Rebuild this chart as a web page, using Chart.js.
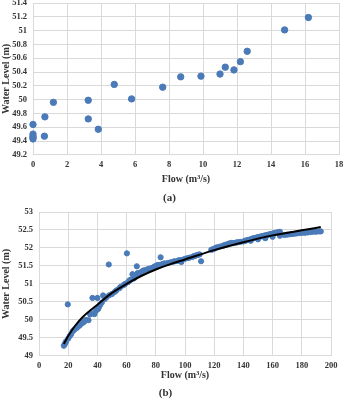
<!DOCTYPE html>
<html>
<head>
<meta charset="utf-8">
<script src="https://cdn.jsdelivr.net/npm/chart.js@4.4.0/dist/chart.umd.min.js"></script>
<style>
  body { margin: 0; background: #fff; }
  #wrapA { position: absolute; left: 0; top: 0; width: 343px; height: 205px; }
  #wrapB { position: absolute; left: 0; top: 205px; width: 343px; height: 195px; }
</style>
</head>
<body>
<div id="wrapA"><canvas id="chartA"></canvas></div>
<div id="wrapB"><canvas id="chartB"></canvas></div>
<script>
// (a) flow vs water level
const flowA = [0, 0, 0, 0, 0, 0.67, 0.7, 1.2, 3.25, 3.25, 3.84, 4.78, 5.8, 7.63, 8.69, 9.88, 11.0, 11.31, 11.82, 12.2, 12.6, 14.8, 16.2];
const levelA = [49.64, 49.5, 49.47, 49.45, 49.43, 49.47, 49.75, 49.96, 49.99, 49.72, 49.57, 50.22, 50.01, 50.18, 50.33, 50.34, 50.37, 50.47, 50.43, 50.55, 50.7, 51.01, 51.19];

// (b) flow vs water level, plus fitted curve
const flowB = [17, 17.5, 18, 18.5, 19.7, 20, 21, 22, 23, 24, 25, 26, 27, 28, 29, 30, 31, 32, 33.9, 35, 36.6, 37, 38, 39, 40, 40.5, 41, 42, 43, 43.9, 45, 46, 47.8, 48, 50, 52, 53, 55, 56, 58, 59, 60.2, 61, 62, 63, 64, 65, 66, 67, 67.5, 68, 69, 70, 71, 72, 74, 75, 77, 78, 79, 80, 81, 82, 83.3, 84, 85, 86, 88, 90, 92, 93, 95, 96, 97.5, 98, 100, 102, 103, 105, 106, 107, 108, 109, 110, 111, 118, 119, 120, 121, 122, 124, 126, 127, 128, 129, 130, 131, 132, 133, 135, 136, 138, 140, 141, 142, 143, 144, 145, 146, 147, 148, 149, 150, 151, 152, 153, 154, 155, 156, 157, 158, 159, 160, 161, 162, 163, 164, 165, 145, 150, 155, 160, 165, 168, 170, 172, 174, 176, 178, 180, 182, 184, 186, 188, 190, 192, 193];
const levelB = [49.28, 49.32, 49.35, 49.4, 50.43, 49.48, 49.55, 49.6, 49.68, 49.72, 49.76, 49.78, 49.82, 49.85, 49.9, 49.92, 49.95, 50.0, 49.99, 50.15, 50.61, 50.18, 50.16, 50.25, 50.61, 50.3, 50.35, 50.42, 50.48, 50.68, 50.58, 50.62, 51.54, 50.68, 50.72, 50.78, 50.82, 50.88, 50.92, 50.97, 51.0, 51.85, 51.05, 51.1, 51.12, 51.27, 51.15, 51.2, 51.49, 51.3, 51.28, 51.3, 51.33, 51.36, 51.38, 51.4, 51.42, 51.44, 51.45, 51.48, 51.5, 51.52, 51.53, 51.74, 51.54, 51.56, 51.57, 51.58, 51.6, 51.62, 51.63, 51.64, 51.66, 51.61, 51.67, 51.7, 51.72, 51.73, 51.75, 51.77, 51.78, 51.8, 51.81, 51.82, 51.63, 51.95, 51.96, 51.98, 52.0, 52.02, 52.04, 52.06, 52.08, 52.09, 52.1, 52.12, 52.13, 52.14, 52.14, 52.15, 52.16, 52.17, 52.18, 52.2, 52.21, 52.22, 52.23, 52.24, 52.26, 52.27, 52.28, 52.29, 52.3, 52.31, 52.32, 52.33, 52.34, 52.35, 52.36, 52.37, 52.38, 52.39, 52.4, 52.41, 52.42, 52.43, 52.44, 52.45, 52.2, 52.24, 52.27, 52.31, 52.34, 52.36, 52.37, 52.38, 52.39, 52.4, 52.41, 52.42, 52.42, 52.43, 52.44, 52.45, 52.45, 52.46, 52.46];
const fitFlow = [17, 20, 25, 30, 40, 50, 60, 70, 80, 90, 100, 120, 140, 160, 180, 193];
const fitLevel = [49.33, 49.55, 49.85, 50.08, 50.42, 50.75, 51.0, 51.22, 51.4, 51.55, 51.68, 51.94, 52.16, 52.35, 52.49, 52.58];

// tick labels
const ticksA_y = [49.2, 49.4, 49.6, 49.8, 50, 50.2, 50.4, 50.6, 50.8, 51, 51.2, 51.4];
const ticksA_x = [0, 2, 4, 6, 8, 10, 12, 14, 16, 18];
const ticksB_y = [49, 49.5, 50, 50.5, 51, 51.5, 52, 52.5, 53];
const ticksB_x = [0, 20, 40, 60, 80, 100, 120, 140, 160, 180, 200];

const dotColor = "#4a7ab8";
const gridColor = "#d9d9d9";
const serif = "'Liberation Serif', 'Times New Roman', serif";
const tickFont = { family: serif, size: 8.5, weight: "bold" };
const titleFont = { family: serif, size: 10, weight: "bold" };
const capFont = { family: serif, size: 11, weight: "bold" };

function toPoints(xs, ys) {
  return xs.map((x, i) => ({ x: x, y: ys[i] }));
}

function makeScales(tx, ty, yWidth, xHeight) {
  return {
    x: {
      type: "linear",
      min: tx[0], max: tx[tx.length - 1],
      afterBuildTicks: (s) => { s.ticks = tx.map(v => ({ value: v })); },
      ticks: { autoSkip: false, maxRotation: 0, color: "#333", font: tickFont, padding: 5, callback: (v) => String(v) },
      grid: { color: gridColor, drawTicks: false },
      border: { color: gridColor },
      title: { display: true, text: "Flow (m³/s)", color: "#333", font: titleFont, padding: { top: 4, bottom: 0 } },
      afterFit: (s) => { s.height = xHeight; s.paddingLeft = 0; s.paddingRight = 0; }
    },
    y: {
      min: ty[0], max: ty[ty.length - 1],
      afterBuildTicks: (s) => { s.ticks = ty.map(v => ({ value: v })); },
      ticks: { autoSkip: false, color: "#333", font: tickFont, padding: 6, callback: (v) => String(v) },
      grid: { color: gridColor, drawTicks: false },
      border: { color: gridColor },
      title: { display: true, text: "Water Level (m)", color: "#333", font: titleFont, padding: { top: 0, bottom: 0 } },
      afterFit: (s) => { s.width = yWidth; s.paddingTop = 0; s.paddingBottom = 0; }
    }
  };
}

new Chart(document.getElementById("chartA"), {
  type: "scatter",
  data: {
    datasets: [{
      data: toPoints(flowA, levelA),
      backgroundColor: dotColor,
      borderColor: dotColor,
      pointRadius: 3.2,
      clip: false
    }]
  },
  options: {
    responsive: true,
    maintainAspectRatio: false,
    animation: false,
    layout: { autoPadding: false, padding: { top: 3, right: 4, left: 0, bottom: 0 } },
    plugins: {
      legend: { display: false },
      tooltip: { enabled: false },
      title: { display: true, position: "bottom", text: "(a)", color: "#333", font: capFont, padding: { top: 6, bottom: 0 } }
    },
    scales: makeScales(ticksA_x, ticksA_y, 33, 31)
  }
});

new Chart(document.getElementById("chartB"), {
  type: "scatter",
  data: {
    datasets: [{
      type: "line",
      data: toPoints(fitFlow, fitLevel),
      borderColor: "#000",
      borderWidth: 2,
      pointRadius: 0,
      cubicInterpolationMode: "monotone",
      fill: false
    }, {
      data: toPoints(flowB, levelB),
      backgroundColor: dotColor,
      borderColor: dotColor,
      pointRadius: 2.6,
      clip: false
    }]
  },
  options: {
    responsive: true,
    maintainAspectRatio: false,
    animation: false,
    layout: { autoPadding: false, padding: { top: 7, right: 12, left: 0, bottom: 0 } },
    plugins: {
      legend: { display: false },
      tooltip: { enabled: false },
      title: { display: true, position: "bottom", text: "(b)", color: "#333", font: capFont, padding: { top: 5, bottom: 0 } }
    },
    scales: makeScales(ticksB_x, ticksB_y, 39, 26)
  }
});
</script>
</body>
</html>
